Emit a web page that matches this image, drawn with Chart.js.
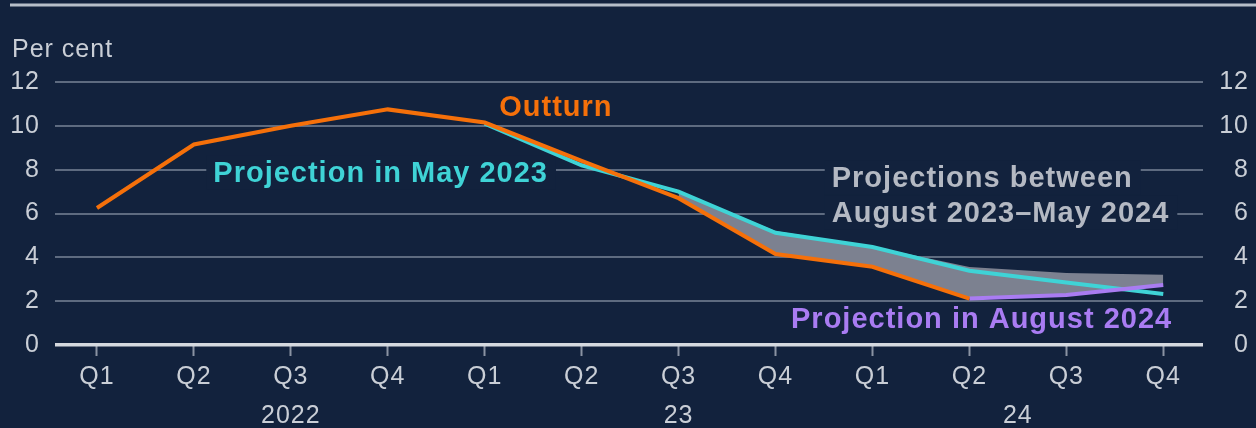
<!DOCTYPE html>
<html>
<head>
<meta charset="utf-8">
<script src="https://cdn.jsdelivr.net/npm/chart.js@4"></script>
<style>
  html, body { margin: 0; padding: 0; background: #12223d; }
  canvas { display: block; }
</style>
</head>
<body>
<canvas id="chart" width="1256" height="428"></canvas>
<script>
// quarters Q1 2022 .. Q4 2024
const categories = ['Q1', 'Q2', 'Q3', 'Q4', 'Q1', 'Q2', 'Q3', 'Q4', 'Q1', 'Q2', 'Q3', 'Q4'];
const years = ['2022', '23', '24'];
const yearPos = [2, 6, 9.5];
const yTicks = [0, 2, 4, 6, 8, 10, 12];

const outturn  = [6.25, 9.15, 10.0, 10.75, 10.15, 8.4, 6.7, 4.15, 3.57, 2.12, null, null];
const may2023  = [null, null, null, null, 10.1, 8.2, 7.0, 5.12, 4.47, 3.39, 2.85, 2.33];
const aug2024  = [null, null, null, null, null, null, null, null, null, 2.12, 2.28, 2.74];
const bandHigh = [null, null, null, null, null, null, 7.0, 5.2, 4.5, 3.56, 3.29, 3.2];
const bandLow  = [null, null, null, null, null, null, 6.7, 4.15, 3.57, 2.12, 2.28, 2.74];

const BG = '#12223d';
const FONT = '"Liberation Sans", Arial, sans-serif';

// text labels on the chart: [text, x index, y value (baseline), colour, knockout]
const labels = [
  ['Outturn', 4.15, 10.45, '#f5700a', false],
  ['Projection in May 2023', 1.2, 7.45, '#3fd3d6', true],
  ['Projections between', 7.58, 7.22, '#b4b9c3', true],
  ['August 2023\u2013May 2024', 7.58, 5.62, '#b4b9c3', true],
  ['Projection in August 2024', 7.16, 0.78, '#a97cf2', false]
];

const pts = arr => arr.map((v, i) => ({ x: i, y: v }));

const deco = {
  id: 'deco',
  beforeDraw(chart) {
    const ctx = chart.ctx;
    ctx.save();
    ctx.fillStyle = BG;
    ctx.fillRect(0, 0, chart.width, chart.height);
    ctx.strokeStyle = '#b6bec9';
    ctx.lineWidth = 3;
    ctx.beginPath();
    ctx.moveTo(10, 5);
    ctx.lineTo(chart.width, 5);
    ctx.stroke();
    ctx.fillStyle = '#c9ced6';
    ctx.font = '25px ' + FONT;
    ctx.letterSpacing = '1px';
    ctx.textAlign = 'left';
    ctx.textBaseline = 'alphabetic';
    ctx.fillText('Per cent', 12, 57);
    ctx.restore();
    ctx.letterSpacing = '1px';
  },
  beforeDatasetsDraw(chart) {
    const ctx = chart.ctx, xs = chart.scales.x, ys = chart.scales.y;
    ctx.save();
    ctx.font = 'bold 29px ' + FONT;
    ctx.letterSpacing = '1px';
    ctx.fillStyle = BG;
    labels.forEach(([t, xi, yv, c, ko]) => {
      if (!ko) return;
      const x = xs.getPixelForValue(xi), y = ys.getPixelForValue(yv);
      const w = ctx.measureText(t).width;
      ctx.fillRect(x - 7, y - 26, w + 15, 34);
    });
    ctx.restore();
  },
  afterDatasetsDraw(chart) {
    const ctx = chart.ctx, xs = chart.scales.x, ys = chart.scales.y;
    ctx.save();
    ctx.font = 'bold 29px ' + FONT;
    ctx.letterSpacing = '1px';
    ctx.textAlign = 'left';
    ctx.textBaseline = 'alphabetic';
    labels.forEach(([t, xi, yv, c]) => {
      ctx.fillStyle = c;
      ctx.fillText(t, xs.getPixelForValue(xi), ys.getPixelForValue(yv));
    });
    ctx.font = '25px ' + FONT;
    ctx.fillStyle = '#c9ced6';
    ctx.textAlign = 'center';
    years.forEach((t, i) => {
      ctx.fillText(t, xs.getPixelForValue(yearPos[i]), 423);
    });
    ctx.restore();
  }
};

const lineDs = (label, data, color, order) => ({
  label, data: pts(data), borderColor: color, borderWidth: 4,
  pointRadius: 0, fill: false, tension: 0, order, borderJoinStyle: 'miter'
});

new Chart(document.getElementById('chart'), {
  type: 'line',
  data: {
    datasets: [
      { label: 'low', data: pts(bandLow), borderWidth: 0, pointRadius: 0, fill: false, order: 10 },
      { label: 'band', data: pts(bandHigh), borderWidth: 0, pointRadius: 0,
        backgroundColor: '#7c8190', fill: '-1', order: 9 },
      lineDs('Outturn', outturn, '#f5700a', 1),
      lineDs('Projection in May 2023', may2023, '#3fd3d6', 3),
      lineDs('Projection in August 2024', aug2024, '#a97cf2', 2)
    ]
  },
  options: {
    responsive: false,
    animation: false,
    events: [],
    layout: { padding: { top: 82, right: 7, left: 0, bottom: 0 } },
    plugins: { legend: { display: false }, tooltip: { enabled: false } },
    scales: {
      x: {
        type: 'linear',
        min: -0.433,
        max: 11.41,
        afterBuildTicks: s => { s.ticks = categories.map((c, i) => ({ value: i })); },
        afterFit: s => { s.height = 83; },
        border: { display: false },
        grid: { drawOnChartArea: false, drawTicks: true, tickLength: 11, color: '#8a93a3', tickWidth: 2 },
        ticks: {
          autoSkip: false, maxRotation: 0, padding: 6, color: '#c9ced6',
          font: { family: FONT, size: 25 },
          callback: v => categories[v]
        }
      },
      y: {
        position: 'left',
        min: 0, max: 12,
        afterBuildTicks: s => { s.ticks = yTicks.map(v => ({ value: v })); },
        afterFit: s => { s.width = 55; },
        border: { display: false },
        grid: {
          drawTicks: false,
          color: c => c.tick.value === 0 ? '#d5d9df' : '#5e6b80',
          lineWidth: c => c.tick.value === 0 ? 3.5 : 2
        },
        ticks: { padding: 15, color: '#c9ced6', font: { family: FONT, size: 25 } }
      },
      y2: {
        position: 'right',
        min: 0, max: 12,
        afterBuildTicks: s => { s.ticks = yTicks.map(v => ({ value: v })); },
        afterFit: s => { s.width = 46; },
        border: { display: false },
        grid: { display: false, drawTicks: false },
        ticks: { crossAlign: 'far', color: '#c9ced6', font: { family: FONT, size: 25 } }
      }
    }
  },
  plugins: [deco]
});
</script>
</body>
</html>
